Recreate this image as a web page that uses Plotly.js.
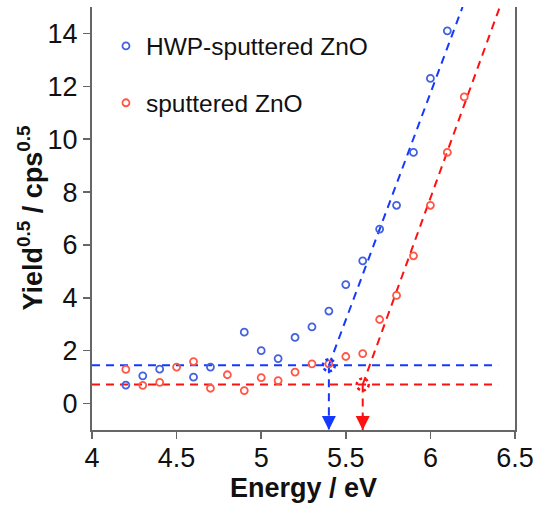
<!DOCTYPE html>
<html>
<head>
<meta charset="utf-8">
<script src="https://cdn.plot.ly/plotly-3.0.1.min.js"></script>
<style>html,body{margin:0;padding:0;background:#fff;}#chart{width:539px;height:508px;}</style>
</head>
<body>
<div id="chart"></div>
<script>
// HWP-sputtered ZnO
const hwpX = [4.2, 4.3, 4.4, 4.6, 4.7, 4.9, 5.0, 5.1, 5.2, 5.3, 5.4, 5.5, 5.6, 5.7, 5.8, 5.9, 6.0, 6.1];
const hwpY = [0.70, 1.05, 1.30, 1.00, 1.38, 2.70, 2.00, 1.70, 2.50, 2.90, 3.50, 4.50, 5.40, 6.60, 7.50, 9.50, 12.30, 14.10];
// sputtered ZnO
const spX = [4.2, 4.3, 4.4, 4.5, 4.6, 4.7, 4.8, 4.9, 5.0, 5.1, 5.2, 5.3, 5.4, 5.5, 5.6, 5.7, 5.8, 5.9, 6.0, 6.1, 6.2];
const spY = [1.29, 0.69, 0.80, 1.38, 1.59, 0.58, 1.09, 0.49, 0.98, 0.87, 1.19, 1.50, 1.50, 1.78, 1.89, 3.18, 4.09, 5.59, 7.50, 9.50, 11.60];
// baselines and onset fits
const baseX = [4.0, 6.4];
const hwpBase = [1.45, 1.45];
const spBase = [0.72, 0.72];
const hwpFitX = [5.4, 6.19];
const hwpFitY = [1.45, 15.0];
const spFitX = [5.6, 6.41];
const spFitY = [0.72, 15.0];
// onset energies (eV) and their baseline levels
const onsetX = [5.4, 5.6];
const onsetY = [1.45, 0.72];
const xTicks = [4, 4.5, 5, 5.5, 6, 6.5];
const xTickText = ['4', '4.5', '5', '5.5', '6', '6.5'];
const yTicks = [0, 2, 4, 6, 8, 10, 12, 14];

const BLUE_M = '#4461e0', RED_M = '#ff5646';
const BLUE_L = '#1438ff', RED_L = '#ff1010';
const yMin = -1;

const traces = [
  {x: baseX, y: hwpBase, mode: 'lines', line: {color: BLUE_L, width: 2, dash: '8px,6px'}, showlegend: false, hoverinfo: 'skip'},
  {x: baseX, y: spBase, mode: 'lines', line: {color: RED_L, width: 2, dash: '8px,6px'}, showlegend: false, hoverinfo: 'skip'},
  {x: hwpFitX, y: hwpFitY, mode: 'lines', line: {color: BLUE_L, width: 2, dash: '8px,6px'}, showlegend: false, hoverinfo: 'skip'},
  {x: spFitX, y: spFitY, mode: 'lines', line: {color: RED_L, width: 2, dash: '8px,6px'}, showlegend: false, hoverinfo: 'skip'},
  {x: [onsetX[0], onsetX[0]], y: [onsetY[0], yMin], mode: 'lines', line: {color: BLUE_L, width: 2, dash: '8px,6px'}, showlegend: false, hoverinfo: 'skip'},
  {x: [onsetX[1], onsetX[1]], y: [onsetY[1], yMin], mode: 'lines', line: {color: RED_L, width: 2, dash: '8px,6px'}, showlegend: false, hoverinfo: 'skip'},
  {x: hwpX, y: hwpY, mode: 'markers', name: 'HWP-sputtered ZnO', legendgroup: 'a',
   marker: {symbol: 'circle-open', size: 7, color: BLUE_M, line: {width: 1.8}}},
  {x: spX, y: spY, mode: 'markers', name: 'sputtered ZnO', legendgroup: 'b',
   marker: {symbol: 'circle-open', size: 7, color: RED_M, line: {width: 1.8}}}
];

const colorsL = [BLUE_L, RED_L];
const shapes = onsetX.map((ox, i) => ({
  type: 'circle', xref: 'x', yref: 'y', xsizemode: 'pixel', ysizemode: 'pixel',
  xanchor: ox, yanchor: onsetY[i], x0: -6, x1: 6, y0: -6, y1: 6,
  line: {color: colorsL[i], width: 2.5, dash: 'dot'}
}));
const annotations = onsetX.map((ox, i) => ({
  x: ox, y: yMin, xref: 'x', yref: 'y', ax: 0, ay: -16, text: '',
  showarrow: true, arrowhead: 2, arrowsize: 1.4, arrowwidth: 2, arrowcolor: colorsL[i]
}));
annotations.push({
  x: 0, y: 0.5, xref: 'paper', yref: 'paper', xanchor: 'center', yanchor: 'middle',
  xshift: -62, textangle: -90, showarrow: false,
  text: '<b>Yield<sup>0.5</sup> / cps<sup>0.5</sup></b>', font: {size: 27, color: '#111'}
});

const layout = {
  width: 539, height: 508,
  margin: {l: 92, r: 24, t: 7, b: 78},
  paper_bgcolor: '#fff', plot_bgcolor: '#fff',
  font: {family: 'Liberation Sans, Arial, sans-serif', color: '#111'},
  showlegend: true,
  legend: {x: 0.033, y: 0.961, xanchor: 'left', yanchor: 'top', traceorder: 'grouped', tracegroupgap: 22,
           font: {size: 24.5, color: '#111'}, bgcolor: 'rgba(0,0,0,0)'},
  xaxis: {range: [4, 6.5], tickvals: xTicks, ticktext: xTickText, ticks: 'outside', ticklen: 7, tickwidth: 1.5,
          tickcolor: '#666', showline: true, linecolor: '#666', linewidth: 2, showgrid: false, zeroline: false,
          tickfont: {size: 27, color: '#111'}, ticklabelstandoff: -4,
          title: {text: '<b>Energy / eV</b>', font: {size: 27, color: '#111'}, standoff: 0}},
  yaxis: {range: [-1, 15], tickvals: yTicks, ticks: 'outside', ticklen: 7, tickwidth: 1.5,
          tickcolor: '#666', showline: true, linecolor: '#666', linewidth: 2, mirror: true, showgrid: false, zeroline: false,
          tickfont: {size: 27, color: '#111'}},
  shapes: shapes,
  annotations: annotations
};

Plotly.newPlot('chart', traces, layout, {displayModeBar: false, staticPlot: true});
</script>
</body>
</html>
